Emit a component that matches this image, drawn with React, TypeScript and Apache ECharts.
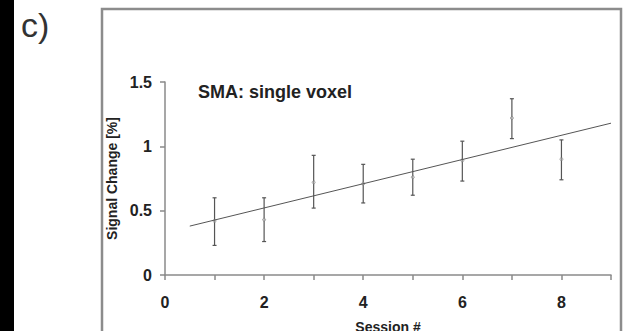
import React, { useEffect, useRef } from "react";
import * as echarts from "echarts";

const sessions = [1, 2, 3, 4, 5, 6, 7, 8];
const means = [0.42, 0.43, 0.72, 0.71, 0.76, 0.89, 1.22, 0.9];
const lows = [0.23, 0.26, 0.52, 0.56, 0.62, 0.73, 1.06, 0.74];
const highs = [0.6, 0.6, 0.93, 0.86, 0.9, 1.04, 1.37, 1.05];
const fitX = [0.5, 9];
const fitY = [0.38, 1.18];
const xTickLabels = ["0", "", "2", "", "4", "", "6", "", "8", ""];
const yTickLabels = ["0", "0.5", "1", "1.5"];

const FONT = "'Liberation Sans', Arial, sans-serif";

export default function App() {
  const ref = useRef<HTMLDivElement>(null);
  useEffect(() => {
    if (!ref.current) return;
    const chart = echarts.init(ref.current, null, { renderer: "svg" });
    const axisColor = "#8a8a8a";
    chart.setOption({
      animation: false,
      backgroundColor: "#ffffff",
      grid: { left: 165, right: 16, top: 82, bottom: 56, containLabel: false, outerBoundsMode: "none" },
      xAxis: {
        type: "value",
        min: 0,
        max: 9,
        interval: 1,
        name: "Session #",
        nameLocation: "middle",
        nameGap: 45,
        nameTextStyle: { fontFamily: FONT, fontWeight: "bold", fontSize: 14, color: "#222" },
        axisLine: { show: true, lineStyle: { color: axisColor, width: 1.5 } },
        axisTick: { show: true, length: 5, lineStyle: { color: axisColor, width: 1.5 } },
        axisLabel: {
          margin: 19,
          fontFamily: FONT,
          fontWeight: "bold",
          fontSize: 16,
          color: "#222",
          formatter: (v: number) => xTickLabels[Math.round(v)] ?? "",
        },
        splitLine: { show: false },
      },
      yAxis: {
        type: "value",
        min: 0,
        max: 1.5,
        interval: 0.5,
        name: "Signal Change [%]",
        nameLocation: "middle",
        nameGap: 46,
        nameRotate: 90,
        nameTextStyle: { fontFamily: FONT, fontWeight: "bold", fontSize: 14, color: "#222" },
        axisLine: { show: true, lineStyle: { color: axisColor, width: 1.5 } },
        axisTick: { show: true, length: 5, lineStyle: { color: axisColor, width: 1.5 } },
        axisLabel: {
          margin: 13,
          fontFamily: FONT,
          fontWeight: "bold",
          fontSize: 16,
          color: "#222",
          formatter: (v: number) => yTickLabels[Math.round(v * 2)] ?? "",
        },
        splitLine: { show: false },
      },
      graphic: [
        {
          type: "rect",
          shape: { x: 102, y: 9, width: 519, height: 340 },
          style: { fill: "none", stroke: "#8c8c8c", lineWidth: 2.5 },
          silent: true,
        },
        {
          type: "rect",
          z: 100,
          shape: { x: 0, y: 0, width: 14, height: 331 },
          style: { fill: "#000000", stroke: "none" },
          silent: true,
        },
        {
          type: "text",
          x: 21,
          y: 25,
          style: { text: "c)", font: `34px ${FONT}`, fill: "#333", verticalAlign: "middle" },
        },
        {
          type: "text",
          x: 198,
          y: 92,
          style: {
            text: "SMA: single voxel",
            font: `bold 18px ${FONT}`,
            fill: "#222",
            verticalAlign: "middle",
          },
        },
      ],
      series: [
        {
          type: "line",
          data: fitX.map((x, i) => [x, fitY[i]]),
          symbol: "none",
          lineStyle: { color: "#555", width: 1 },
          silent: true,
        },
        {
          type: "custom",
          data: sessions.map((s, i) => [s, lows[i], highs[i]]),
          renderItem: (params: any, api: any) => {
            const x = api.value(0);
            const lo = api.coord([x, api.value(1)]);
            const hi = api.coord([x, api.value(2)]);
            const cap = 2;
            const st = { stroke: "#555", lineWidth: 1.2 };
            return {
              type: "group",
              children: [
                { type: "line", shape: { x1: lo[0], y1: lo[1], x2: hi[0], y2: hi[1] }, style: st },
                { type: "line", shape: { x1: lo[0] - cap, y1: lo[1], x2: lo[0] + cap, y2: lo[1] }, style: st },
                { type: "line", shape: { x1: hi[0] - cap, y1: hi[1], x2: hi[0] + cap, y2: hi[1] }, style: st },
              ],
            };
          },
          silent: true,
        },
        {
          type: "scatter",
          data: sessions.map((s, i) => [s, means[i]]),
          symbol: "circle",
          symbolSize: 3,
          itemStyle: { color: "rgba(255,255,255,0.4)", borderColor: "#777", borderWidth: 0.8 },
          silent: true,
        },
      ],
    });
    return () => chart.dispose();
  }, []);
  return (
    <div style={{ position: "absolute", left: 0, top: 0, width: 627, height: 331 }}>
      <div ref={ref} style={{ position: "absolute", left: 0, top: 0, width: 627, height: 331 }} />
      <div style={{ position: "absolute", left: 0, top: 0, width: 14, height: 331, backgroundColor: "#000", zIndex: 10 }} />
    </div>
  );
}
